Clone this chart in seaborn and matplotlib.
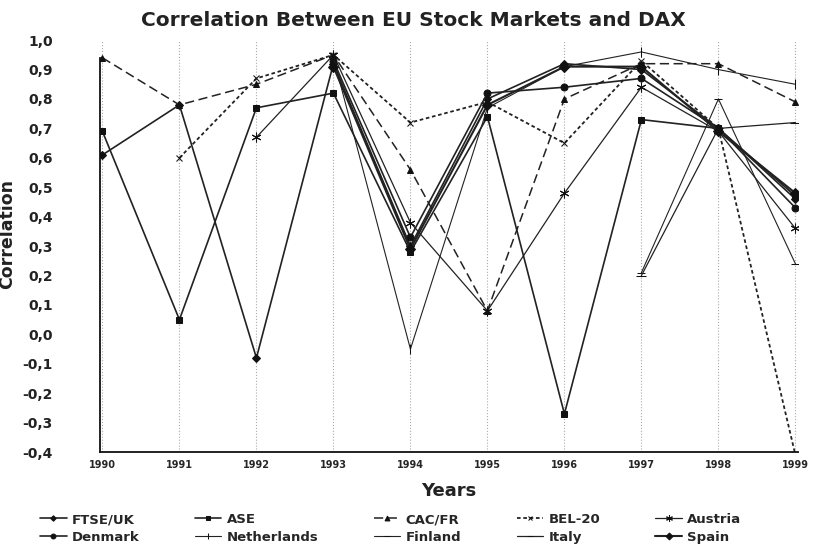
import matplotlib
matplotlib.use("Agg")
import matplotlib.pyplot as plt
import seaborn as sns
import numpy as np

years = [1990, 1991, 1992, 1993, 1994, 1995, 1996, 1997, 1998, 1999]
nan = np.nan

# correlation values (nan = no data that year)
ftse_uk = [0.61, 0.78, -0.08, 0.92, 0.30, 0.80, 0.92, 0.90, 0.70, 0.46]
ase = [0.69, 0.05, 0.77, 0.82, 0.28, 0.74, -0.27, 0.73, 0.70, 0.47]
cac_fr = [0.94, 0.78, 0.85, 0.95, 0.56, 0.08, 0.80, 0.92, 0.92, 0.79]
bel_20 = [nan, 0.60, 0.87, 0.95, 0.72, 0.79, 0.65, 0.93, 0.70, -0.41]
austria = [nan, nan, 0.67, 0.95, 0.38, 0.08, 0.48, 0.84, 0.69, 0.36]
denmark = [nan, nan, nan, 0.93, 0.33, 0.82, 0.84, 0.87, 0.70, 0.43]
netherlands = [nan, nan, nan, 0.94, -0.05, 0.77, 0.91, 0.96, 0.90, 0.85]
finland = [nan, nan, nan, nan, nan, nan, nan, 0.21, 0.80, 0.24]
italy = [nan, nan, nan, nan, nan, nan, nan, 0.20, 0.70, 0.72]
spain = [nan, nan, nan, 0.91, 0.29, 0.78, 0.91, 0.91, 0.69, 0.48]

y_ticks = [1.0, 0.9, 0.8, 0.7, 0.6, 0.5, 0.4, 0.3, 0.2, 0.1, 0.0, -0.1, -0.2, -0.3, -0.4]

series = [
    ("FTSE/UK", ftse_uk, "D", "-", 4, 1.2),
    ("ASE", ase, "s", "-", 5, 1.2),
    ("CAC/FR", cac_fr, "^", (0, (6, 3)), 5, 1.1),
    ("BEL-20", bel_20, "x", (0, (2, 1.5)), 5, 1.3),
    ("Austria", austria, (6, 2, 0), "-", 7, 0.9),
    ("Denmark", denmark, "o", "-", 5, 1.2),
    ("Netherlands", netherlands, "|", "-", 7, 0.8),
    ("Finland", finland, "_", "-", 6, 0.8),
    ("Italy", italy, "_", "-", 7, 0.9),
    ("Spain", spain, "D", "-", 5, 1.5),
]

sns.set_theme(style="white")
plt.rcParams['font.family'] = ['DejaVu Sans']

fig = plt.figure(figsize=(8.14, 5.5), dpi=100)
ax = fig.add_axes([0.123, 0.178, 0.857, 0.749])

handles = {}
for name, vals, mk, ls, ms, lw in series:
    xs = [y for y, v in zip(years, vals) if not np.isnan(v)]
    vs = [v for v in vals if not np.isnan(v)]
    sns.lineplot(x=xs, y=vs, ax=ax, color="#222222", marker=mk, linestyle=ls,
                 markersize=ms, linewidth=lw, markeredgecolor="#111111",
                 markerfacecolor="#111111", label=name, legend=False)
    handles[name] = ax.lines[-1]

ax.set_xlim(1989.97, 1999.03)
ax.set_ylim(-0.4, 1.0)
ax.set_xticks(years)
ax.set_xticklabels([str(y) for y in years], fontsize=7, fontweight="bold")
ax.set_yticks(y_ticks)
ax.set_yticklabels([f"{t:.1f}".replace(".", ",") for t in y_ticks],
                   fontsize=10, fontweight="bold", color="#222222")
ax.tick_params(axis="x", length=0, pad=6)
ax.tick_params(axis="y", length=0, pad=34)
ax.grid(axis="x", color="#aaaaaa", linestyle=":", linewidth=0.8)
ax.grid(axis="y", visible=False)
for side in ["top", "right"]:
    ax.spines[side].set_visible(False)
for side in ["left", "bottom"]:
    ax.spines[side].set_color("#111111")
    ax.spines[side].set_linewidth(1.3)
ax.spines["left"].set_bounds(-0.4, 0.94)

ax.set_ylabel("Correlation", fontsize=12.5, fontweight="bold", color="#222222")
ax.yaxis.set_label_coords(-0.12, 0.53)
ax.set_xlabel("Years", fontsize=13, fontweight="bold", labelpad=8, color="#222222")
fig.text(0.508, 0.962, "Correlation Between EU Stock Markets and DAX",
         ha="center", va="center", fontsize=14.5, fontweight="bold", color="#222222")

# legend fills column by column, so interleave the two rows
order = ["FTSE/UK", "Denmark", "ASE", "Netherlands", "CAC/FR", "Finland",
         "BEL-20", "Italy", "Austria", "Spain"]
fig.legend([handles[n] for n in order], order, loc="lower center", ncol=5,
           bbox_to_anchor=(0.48, -0.01), frameon=False, handlelength=2.0,
           handletextpad=0.4, columnspacing=4.2, labelspacing=0.35, markerscale=0.7,
           prop={"weight": "bold", "size": 9.5})

fig.savefig("out.png", dpi=100)
